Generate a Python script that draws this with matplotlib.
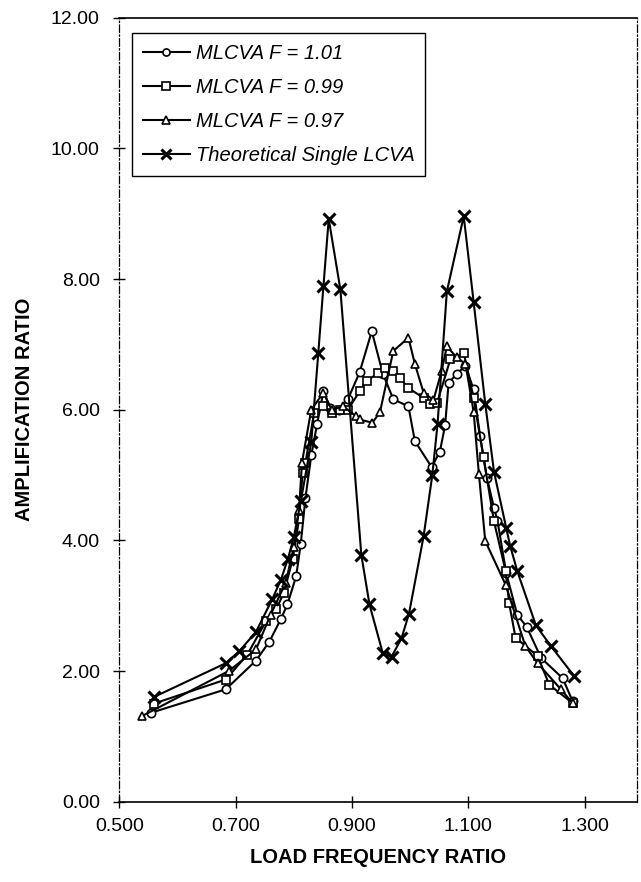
import numpy as np
import matplotlib.pyplot as plt
from matplotlib.ticker import FormatStrFormatter

plt.rcParams['font.family'] = ['Liberation Sans', 'DejaVu Sans']

# MLCVA F = 1.01 (circles)
f101_x = [0.554, 0.683, 0.735, 0.758, 0.778, 0.789, 0.804, 0.812, 0.820, 0.830,
          0.840, 0.851, 0.863, 0.878, 0.893, 0.913, 0.934, 0.953, 0.971, 0.997,
          1.008, 1.037, 1.051, 1.060, 1.066, 1.080, 1.095, 1.109, 1.120, 1.132,
          1.144, 1.150, 1.165, 1.184, 1.200, 1.225, 1.262, 1.279]
f101_y = [1.36, 1.72, 2.16, 2.45, 2.80, 3.02, 3.45, 3.95, 4.65, 5.30,
          5.78, 6.28, 6.02, 6.00, 6.16, 6.57, 7.20, 6.55, 6.16, 6.05,
          5.52, 5.12, 5.36, 5.76, 6.41, 6.55, 6.67, 6.31, 5.60, 4.95,
          4.50, 4.30, 3.50, 2.86, 2.68, 2.20, 1.89, 1.54]

# MLCVA F = 0.99 (squares)
f099_x = [0.559, 0.683, 0.720, 0.752, 0.770, 0.783, 0.798, 0.809, 0.815, 0.820,
          0.835, 0.850, 0.865, 0.880, 0.893, 0.913, 0.925, 0.945, 0.956, 0.971,
          0.982, 0.997, 1.023, 1.034, 1.046, 1.069, 1.092, 1.109, 1.126, 1.144,
          1.164, 1.170, 1.181, 1.219, 1.239, 1.279]
f099_y = [1.50, 1.87, 2.25, 2.76, 2.95, 3.20, 3.71, 4.32, 5.03, 5.19,
          5.95, 6.05, 5.95, 6.00, 6.00, 6.28, 6.44, 6.56, 6.64, 6.59,
          6.49, 6.33, 6.18, 6.08, 6.10, 6.77, 6.87, 6.18, 5.27, 4.29,
          3.53, 3.04, 2.51, 2.23, 1.79, 1.51]

# MLCVA F = 0.97 (triangles)
f097_x = [0.539, 0.688, 0.735, 0.760, 0.786, 0.800, 0.809, 0.814, 0.830, 0.851,
          0.865, 0.885, 0.907, 0.913, 0.935, 0.948, 0.971, 0.997, 1.008, 1.023,
          1.040, 1.054, 1.063, 1.080, 1.095, 1.109, 1.118, 1.129, 1.164, 1.198,
          1.219, 1.259, 1.279]
f097_y = [1.31, 2.00, 2.33, 2.86, 3.35, 3.90, 4.47, 5.19, 6.00, 6.26,
          6.00, 6.05, 5.90, 5.85, 5.80, 5.96, 6.90, 7.10, 6.70, 6.26,
          6.15, 6.59, 6.97, 6.80, 6.70, 5.97, 5.02, 3.99, 3.32, 2.38,
          2.12, 1.72, 1.51]

# Theoretical single LCVA (crosses)
theo_x = [0.559, 0.683, 0.706, 0.735, 0.763, 0.778, 0.790, 0.800, 0.812, 0.830,
          0.842, 0.851, 0.860, 0.880, 0.916, 0.930, 0.953, 0.968, 0.985, 0.998,
          1.023, 1.038, 1.047, 1.063, 1.092, 1.109, 1.129, 1.144, 1.165, 1.172,
          1.184, 1.216, 1.242, 1.282]
theo_y = [1.60, 2.12, 2.30, 2.60, 3.10, 3.40, 3.72, 4.05, 4.60, 5.50,
          6.86, 7.90, 8.92, 7.84, 3.78, 3.02, 2.27, 2.22, 2.50, 2.88,
          4.06, 5.00, 5.78, 7.81, 8.96, 7.65, 6.09, 5.05, 4.19, 3.91,
          3.53, 2.70, 2.38, 1.92]

fig = plt.figure(figsize=(6.41, 8.82), dpi=100)
ax = fig.add_axes([0.186, 0.091, 0.808, 0.889])

common = dict(color='black', lw=1.5, ms=6, mfc='white', mec='black', mew=1.2)
ax.plot(f101_x, f101_y, marker='o', label='MLCVA F = 1.01', **common)
ax.plot(f099_x, f099_y, marker='s', label='MLCVA F = 0.99', **common)
ax.plot(f097_x, f097_y, marker='^', label='MLCVA F = 0.97', **common)
ax.plot(theo_x, theo_y, marker='x', color='black', lw=1.5, ms=8, mew=2.2,
        label='Theoretical Single LCVA')

ax.set_xlim(0.5, 1.39)
ax.set_ylim(0, 12)
ax.set_xticks([0.5, 0.7, 0.9, 1.1, 1.3])
ax.set_yticks(np.arange(0, 13, 2))
ax.xaxis.set_major_formatter(FormatStrFormatter('%.3f'))
ax.yaxis.set_major_formatter(FormatStrFormatter('%.2f'))
ax.tick_params(direction='inout', length=8, width=1, labelsize=14)
ax.tick_params(axis='y', pad=10)
ax.tick_params(axis='x', pad=8)

for side in ['left', 'right']:
    ax.spines[side].set_linestyle((0, (6, 2, 1, 2)))
    ax.spines[side].set_linewidth(0.9)
for side in ['top', 'bottom']:
    ax.spines[side].set_linewidth(1.2)

ax.set_xlabel('LOAD FREQUENCY RATIO', fontsize=14.5, fontweight='bold', labelpad=9)
ax.set_ylabel('AMPLIFICATION RATIO', fontsize=14.5, fontweight='bold', labelpad=12)

leg = ax.legend(loc='upper left', bbox_to_anchor=(0.025, 0.981), borderaxespad=0,
                fancybox=False, edgecolor='black', framealpha=1,
                prop={'style': 'italic', 'size': 14.5}, handlelength=2.3,
                labelspacing=0.75, handletextpad=0.3, borderpad=0.55,
                markerscale=0.85)
leg.get_frame().set_linewidth(1.0)

fig.savefig('out.png', dpi=100)
